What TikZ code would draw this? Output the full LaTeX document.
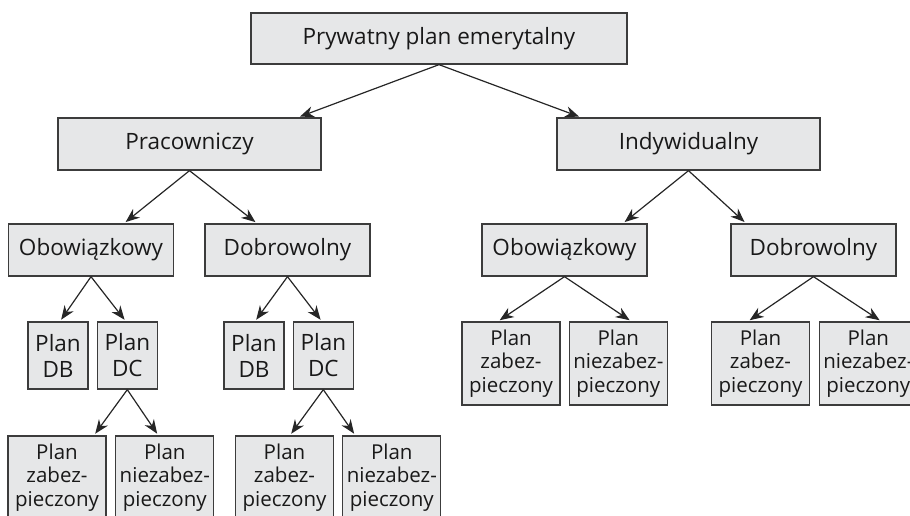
\documentclass[tikz,border=0pt]{standalone}
\usepackage{fontspec}
\setmainfont{Open Sans}
\usepackage{tikz}
\usetikzlibrary{positioning,arrows.meta}
\definecolor{boxgray}{HTML}{E6E7E8}
\definecolor{linegray}{HTML}{3C3C3C}
\tikzset{
  box/.style={rectangle, draw=linegray, fill=boxgray, line width=1.3pt, inner sep=0pt, align=center,
              text=black!90, font=\fontsize{22.5}{26}\selectfont},
  rootbox/.style={box, minimum width=376pt, minimum height=51pt},
  kindbox/.style={box, minimum width=263pt, minimum height=52pt},
  formbox/.style={box, minimum width=165pt, minimum height=52pt},
  planbox/.style={box, minimum width=60pt, minimum height=67pt},
  secbox/.style={box, minimum width=98pt, minimum height=83pt, font=\fontsize{20.5}{23.5}\selectfont},
  fwd/.style={-{Stealth[length=14pt, width=11pt, inset=4.5pt]}, line width=1.2pt, draw=black!85, shorten >=2pt},
}
\begin{document}
\begin{tikzpicture}[x=1pt, y=-1pt]
  \useasboundingbox (0,0) rectangle (910,515);

  \node[rootbox] (root) at (439,38.5) {Prywatny plan emerytalny};
  \node[kindbox] (prac) at (189.5,144) {Pracowniczy};
  \node[kindbox] (ind) at (688.5,144) {Indywidualny};

  \node[formbox] (lob) at (91,250) {Obowiązkowy};
  \node[formbox] (ldo) at (287.5,250) {Dobrowolny};
  \node[formbox] (rob) at (564.5,250) {Obowiązkowy};
  \node[formbox] (rdo) at (813.5,250) {Dobrowolny};

  \node[planbox] (lobdb) at (58,355.5) {Plan\\DB};
  \node[planbox] (lobdc) [right=8pt of lobdb] {Plan\\DC};
  \node[planbox] (ldodb) at (254,355.5) {Plan\\DB};
  \node[planbox] (ldodc) [right=8pt of ldodb] {Plan\\DC};

  \node[secbox] (lz1) at (57,477.5) {Plan\\zabez-\\pieczony};
  \node[secbox] (ln1) [right=8.5pt of lz1] {Plan\\niezabez-\\pieczony};
  \node[secbox] (lz2) at (284.5,477.5) {Plan\\zabez-\\pieczony};
  \node[secbox] (ln2) [right=8pt of lz2] {Plan\\niezabez-\\pieczony};
  \node[secbox] (rz1) at (511,363.5) {Plan\\zabez-\\pieczony};
  \node[secbox] (rn1) [right=8pt of rz1] {Plan\\niezabez-\\pieczony};
  \node[secbox] (rz2) at (760.5,363.5) {Plan\\zabez-\\pieczony};
  \node[secbox] (rn2) [right=8.5pt of rz2] {Plan\\niezabez-\\pieczony};

  \draw[fwd] (root.south) -- ([xshift=108.5pt]prac.north);
  \draw[fwd] (root.south) -- ([xshift=-107.5pt]ind.north);

  \draw[fwd] (prac.south) -- ([xshift=33pt]lob.north);
  \draw[fwd] (prac.south) -- ([xshift=-30.5pt]ldo.north);
  \draw[fwd] (ind.south) -- ([xshift=58.5pt]rob.north);
  \draw[fwd] (ind.south) -- ([xshift=-67.5pt]rdo.north);

  \draw[fwd] (lob.south) -- ([xshift=2pt]lobdb.north);
  \draw[fwd] (lob.south) -- ([xshift=-1.5pt]lobdc.north);
  \draw[fwd] (ldo.south) -- ([xshift=1pt]ldodb.north);
  \draw[fwd] (ldo.south) -- ([xshift=-1.5pt]ldodc.north);

  \draw[fwd] (lobdc.south) -- ([xshift=37pt]lz1.north);
  \draw[fwd] (lobdc.south) -- ([xshift=-6.5pt]ln1.north);
  \draw[fwd] (ldodc.south) -- ([xshift=5.5pt]lz2.north);
  \draw[fwd] (ldodc.south) -- ([xshift=-36.5pt]ln2.north);
  \draw[fwd] (rob.south) -- ([xshift=-13pt]rz1.north);
  \draw[fwd] (rob.south) -- ([xshift=13pt]rn1.north);
  \draw[fwd] (rdo.south) -- ([xshift=-12.5pt]rz2.north);
  \draw[fwd] (rdo.south) -- ([xshift=13pt]rn2.north);
\end{tikzpicture}
\end{document}
